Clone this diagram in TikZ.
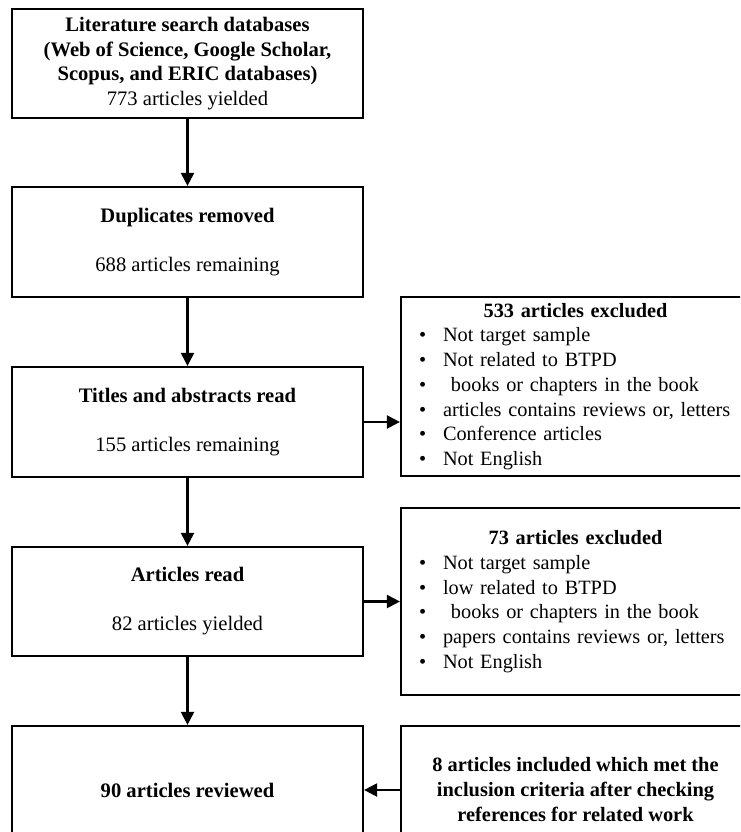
\documentclass[tikz,border=0pt]{standalone}
\usepackage{fontspec}
\setmainfont{Liberation Serif}
\usetikzlibrary{arrows.meta}
\newcommand\bitem[1]{\makebox[24pt][l]{•}#1}
\begin{document}
\begin{tikzpicture}[x=1pt,y=-1pt,
  boxbase/.style={draw, line width=2.2pt, fill=white},
  lbox/.style={boxbase, inner sep=0pt, minimum width=351pt, align=center,
    font=\fontsize{20.6}{24.5}\selectfont},
  rbox/.style={boxbase, inner xsep=18pt, inner ysep=0pt, text width=313pt, align=left,
    font=\fontsize{20.3}{24.7}\selectfont},
  arr/.style={line width=2.2pt, -{Triangle[length=13pt,width=13pt]}}]
\useasboundingbox (0,0) rectangle (740,832);
\clip (0,0) rectangle (740,832);
\fill[white] (0,0) rectangle (740,832);

\node[lbox, minimum height=109pt] (b1) at (187.5,63.5)
  {\textbf{Literature search databases}\\\textbf{(Web of Science, Google Scholar,}\\\textbf{Scopus, and ERIC databases)}\\773 articles yielded};
\node[lbox, minimum height=110pt] (b2) at (187.5,242)
  {\textbf{Duplicates removed}\\[24.5pt]688 articles remaining};
\node[lbox, minimum height=110pt] (b3) at (187.5,422)
  {\textbf{Titles and abstracts read}\\[24.5pt]155 articles remaining};
\node[lbox, minimum height=109pt] (b4) at (187.5,601.5)
  {\textbf{Articles read}\\[24.5pt]82 articles yielded};
\node[lbox, minimum height=128pt] (b5) at (187.5,790)
  {\textbf{90 articles reviewed}};

\node[rbox, minimum height=179pt] (r1) at (575.5,386.5)
  {\makebox[\linewidth]{\bfseries 533 articles excluded}\\
   \bitem{Not target sample}\\
   \bitem{Not related to BTPD}\\
   \bitem{\hspace{8pt}books or chapters in the book}\\
   \bitem{articles contains reviews or, letters}\\
   \bitem{Conference articles}\\
   \bitem{Not English}};
\node[rbox, minimum height=187pt] (r2) at (575.5,601.5)
  {\makebox[\linewidth]{\bfseries 73 articles excluded}\\
   \bitem{Not target sample}\\
   \bitem{low related to BTPD}\\
   \bitem{\hspace{8pt}books or chapters in the book}\\
   \bitem{papers contains reviews or, letters}\\
   \bitem{Not English}};
\node[boxbase, inner sep=0pt, minimum width=349pt, minimum height=128pt, align=center,
  font=\fontsize{20.4}{25}\selectfont\bfseries] (r3) at (575.5,790)
  {8 articles included which met the\\inclusion criteria after checking\\references for related work};

\draw[arr] (b1.south) -- (b2.north);
\draw[arr] (b2.south) -- (b3.north);
\draw[arr] (b3.south) -- (b4.north);
\draw[arr] (b4.south) -- (b5.north);
\draw[arr] (b3.east) -- (b3.east -| r1.west);
\draw[arr] (b4.east) -- (b4.east -| r2.west);
\draw[arr] (r3.west) -- (r3.west -| b5.east);
\end{tikzpicture}
\end{document}
